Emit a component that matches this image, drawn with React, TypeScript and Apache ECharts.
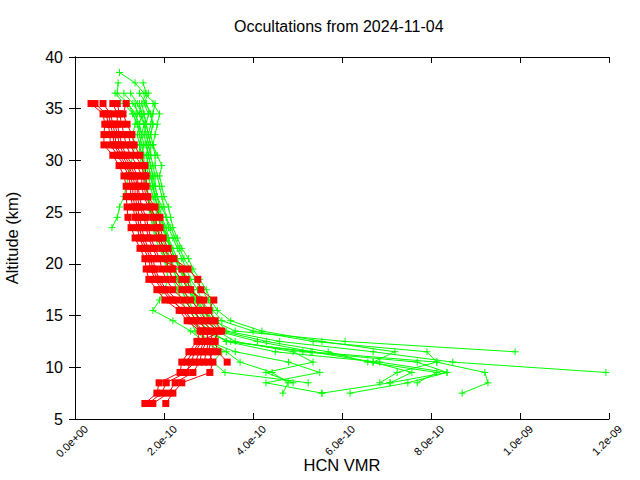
import React, { useEffect, useRef } from "react";
import * as echarts from "echarts";

// Red profiles: values in units of 1e-10, altitudes start at redTops[i] and step down 1 km
const redTops = [35.5, 35.5, 35.5, 35.5, 35.5, 35.5, 34.5, 33.5, 32.5];
const r1 = [0.36,0.63,0.67,0.65,0.65,0.85,0.99,1.10,1.15,1.15,1.17,1.19,1.26,1.35,1.46,1.57,1.60,1.66,1.84,2.02,2.34,2.52,2.81,2.74,2.56,2.40,2.36,1.89,1.84,1.57];
const r2 = [0.45,0.70,0.75,0.78,0.80,0.95,1.10,1.20,1.25,1.25,1.30,1.35,1.40,1.45,1.55,1.65,1.70,1.80,1.95,2.15,2.45,2.65,2.90,2.85,2.70,2.60,2.50,2.05,1.95,1.65];
const r3 = [0.63,0.80,0.85,0.90,0.92,1.05,1.20,1.30,1.35,1.35,1.40,1.45,1.50,1.55,1.65,1.75,1.80,1.90,2.05,2.30,2.55,2.75,3.00,2.95,2.85,2.80,2.65,2.25,2.10,1.75];
const r4 = [0.85,0.95,0.95,1.00,1.05,1.15,1.30,1.40,1.42,1.45,1.50,1.60,1.65,1.70,1.80,1.90,1.95,2.05,2.20,2.45,2.65,2.85,3.10,3.05,3.00,3.10,3.03,2.40,2.20,2.04];
const r5 = [0.95,1.00,1.05,1.10,1.15,1.25,1.40,1.50,1.50,1.55,1.65,1.75,1.80,1.85,1.95,2.05,2.10,2.20,2.40,2.60,2.80,2.95,3.20,3.15,3.21,3.42];
const r6 = [1.15,1.08,1.17,1.28,1.33,1.46,1.57,1.60,1.60,1.64,1.80,1.91,1.91,1.98,2.09,2.22,2.54,2.76,2.83,3.12,3.01,3.15,3.30,2.80,2.65,2.50];
const r7 = [0.75,0.80,0.85,0.88,1.00,1.15,1.25,1.30,1.30,1.35,1.40,1.45,1.50,1.60,1.70,1.75,1.85,2.00,2.20,2.40,2.60,2.85,2.90,2.80,2.70,2.45];
const r8 = [0.90,0.95,1.00,1.10,1.25,1.35,1.40,1.40,1.45,1.55,1.60,1.65,1.75,1.85,2.40,2.50,2.60,2.80,2.70,2.80,2.95,3.00,2.95,2.90];
const r9 = [1.20,1.25,1.35,1.50,1.55,1.55,1.60,1.70,1.80,1.85,1.90,2.00,2.15,2.20,2.40,2.55,2.90,2.90,3.05,3.25,3.10,3.10,3.00];
const redProfiles = [r1, r2, r3, r4, r5, r6, r7, r8, r9];

// Green profiles
const greenTops = [38.5, 37.5, 37.5, 36.5, 36.5, 36.5, 36.5, 36.5, 35.5, 35.5, 35.5, 34.5, 35.5, 35.5];
const g1 = [1.00,1.35,1.55,1.80,1.75,1.70,1.65,1.60,1.65,1.70,1.75,1.80,1.85,1.95,2.05,2.10,2.20,2.30,2.40,2.50,2.60,2.75,2.85,3.00,3.20,3.40,4.60,6.70,8.49,11.93];
const g2 = [0.97,0.95,1.20,1.35,1.45,1.50,1.45,1.50,1.55,1.55,1.60,1.65,1.70,1.80,1.85,1.95,2.05,2.15,2.25,2.35,2.45,2.55,2.65,2.80,3.00,3.40,5.30,8.13,9.21,9.28,8.70];
const g3 = [1.53,1.60,1.50,1.55,1.60,1.55,1.60,1.65,1.60,1.65,1.70,1.75,1.80,1.85,1.95,2.05,2.15,2.25,2.40,2.50,2.60,2.70,2.90,3.10,3.60,6.07,9.89];
const g4 = [0.90,1.10,1.30,1.40,1.50,1.55,1.50,1.55,1.60,1.62,1.65,1.70,1.75,1.85,1.90,2.00,2.10,2.20,2.30,2.40,2.50,2.60,2.70,2.80,3.50,5.12,7.69,8.36,7.48,6.18];
const g5 = [1.10,1.30,1.45,1.55,1.60,1.65,1.70,1.75,1.80,1.80,1.85,1.90,1.95,2.00,2.05,2.15,2.25,2.35,2.45,2.55,2.70,2.85,2.95,3.20,4.10,5.33,6.70,7.57,7.08,5.55];
const g6 = [1.25,1.40,1.50,1.45,1.40,1.45,1.45,1.50,1.55,1.60,1.65,1.65,1.70,1.75,1.85,1.95,2.00,2.10,2.20,2.30,2.40,2.50,2.60,2.70,3.00,3.40,3.71,4.43,4.79,4.67];
const g7 = [1.45,1.60,1.70,1.75,1.70,1.75,1.80,1.80,1.85,1.90,1.95,2.00,2.05,2.15,2.25,2.35,2.45,2.60,2.70,2.85,3.00,3.10,3.30,4.00,5.35,7.91,8.13,7.24,6.85];
const g8 = [1.65,1.55,1.65,1.60,1.65,1.70,1.70,1.65,1.70,1.75,1.80,1.85,1.90,2.00,2.10,2.20,2.30,2.40,2.55,2.65,2.80,2.95,3.10,3.30,4.30,5.69,6.58,8.13,7.69];
const g9 = [1.35,1.40,1.35,1.30,1.35,1.30,1.25,1.20,1.15,1.10,1.00,0.95,0.83];
const g10 = [1.75,1.90,1.85,1.80,1.75,1.85,1.95,1.90,1.95,2.00,2.10,2.15,2.20,2.30,2.40,2.55,2.65,2.80,2.95,3.05,3.20,3.50,4.20,5.55,7.19,6.70];
const g11 = [1.45,1.50,1.55,1.50,1.45,1.50,1.55,1.60,1.60,1.65,1.70,1.75,1.75,1.80,1.90,2.00,2.05,2.10,2.00,1.90,1.75,2.20,2.60,2.90,3.30,3.10,3.37,5.24];
const g12 = [1.55,1.60,1.65,1.70,1.65,1.70,1.75,1.75,1.80,1.85,1.95,2.05,2.10,2.15,2.25,2.35,2.50,2.60,2.75,2.90,3.00,3.20,3.60,4.90,5.35,4.29,4.90];
const g13 = [1.60,1.70,1.75,1.70,1.65,1.60,1.65,1.70,1.75,1.80,1.85,1.90,2.00,2.05,2.15,2.25,2.35,2.45,2.55,2.65,2.75,2.90,3.05,3.40,4.50,6.85,8.36,7.08];
const g14 = [1.20,1.30,1.40,1.45,1.50,1.55,1.55,1.60,1.60,1.65,1.70,1.80,1.85,1.90,2.00,2.10,2.20,2.30,2.40,2.50,2.60,2.70,2.80,3.00,3.60,4.80,5.50,4.29,5.55];
const greenProfiles = [g1, g2, g3, g4, g5, g6, g7, g8, g9, g10, g11, g12, g13, g14];

const UNIT = 1e-10;
const xTicks = { min: 0, max: 1.2e-9, interval: 2e-10 };
const yTicks = { min: 5, max: 40, interval: 5 };

const CROSS = "path://M0,4L8,4M4,0L4,8";
const FONT = "'Liberation Sans', Arial, sans-serif";

function toPoints(vals: number[], top: number) {
  return vals.map((v, i) => [v * UNIT, top - i]);
}

function fmtExp(v: number) {
  if (v === 0) return "0.0e+00";
  const s = v.toExponential(1);
  const [m, e] = s.split("e");
  const sign = e[0];
  const d = e.slice(1).padStart(2, "0");
  return m + "e" + sign + d;
}

export default function App() {
  const ref = useRef<HTMLDivElement>(null);
  useEffect(() => {
    if (!ref.current) return;
    const chart = echarts.init(ref.current, null, { renderer: "svg" });
    const series: any[] = [];
    greenProfiles.forEach((p, i) => {
      series.push({
        type: "line",
        xAxisIndex: 0,
        yAxisIndex: 0,
        data: toPoints(p, greenTops[i]),
        symbol: CROSS,
        symbolSize: 7,
        showAllSymbol: true,
        lineStyle: { color: "#00ff00", width: 1 },
        itemStyle: { color: "#00ff00", borderColor: "#00ff00", borderWidth: 1 },
        z: 2,
        silent: true,
      });
    });
    redProfiles.forEach((p, i) => {
      series.push({
        type: "line",
        xAxisIndex: 0,
        yAxisIndex: 0,
        data: toPoints(p, redTops[i]),
        symbol: "rect",
        symbolSize: 7,
        showAllSymbol: true,
        lineStyle: { color: "#ff0000", width: 1 },
        itemStyle: { color: "#ff0000" },
        z: 3,
        silent: true,
      });
    });
    const tickStyle = { inside: true, length: 6, lineStyle: { color: "#000" } };
    chart.setOption({
      animation: false,
      title: {
        text: "Occultations from 2024-11-04",
        left: 229,
        top: 13,
        textStyle: { fontFamily: FONT, fontSize: 16, fontWeight: "normal", color: "#000" },
      },
      grid: [
        { left: 75, right: 31, top: 57, bottom: 61, show: false, containLabel: false, outerBoundsMode: "none" },
        { left: 86, right: 20, top: 57, bottom: 61, show: false, containLabel: false, outerBoundsMode: "none" },
      ],
      xAxis: [
        {
          type: "value",
          gridIndex: 0,
          position: "bottom",
          ...xTicks,
          name: "HCN VMR",
          nameLocation: "middle",
          nameGap: 37,
          nameTextStyle: { fontFamily: FONT, fontSize: 16.5, color: "#000" },
          axisLine: { show: true, lineStyle: { color: "#000", width: 1 } },
          axisTick: tickStyle,
          splitLine: { show: false },
          axisLabel: { show: false },
        },
        {
          type: "value",
          gridIndex: 0,
          position: "top",
          ...xTicks,
          axisLine: { show: true, lineStyle: { color: "#000", width: 1 } },
          axisTick: tickStyle,
          splitLine: { show: false },
          axisLabel: { show: false },
        },
        {
          type: "value",
          gridIndex: 1,
          position: "bottom",
          ...xTicks,
          axisLine: { show: false },
          axisTick: { show: false },
          splitLine: { show: false },
          axisLabel: {
            rotate: 45,
            fontSize: 11,
            fontFamily: FONT,
            color: "#000",
            margin: 8,
            formatter: fmtExp,
          },
        },
      ],
      yAxis: [
        {
          type: "value",
          gridIndex: 0,
          position: "left",
          ...yTicks,
          name: "Altitude (km)",
          nameLocation: "middle",
          nameRotate: 90,
          nameGap: 55,
          nameTextStyle: { fontFamily: FONT, fontSize: 16.5, color: "#000" },
          axisLine: { show: true, lineStyle: { color: "#000", width: 1 } },
          axisTick: tickStyle,
          splitLine: { show: false },
          axisLabel: { fontSize: 16, fontFamily: FONT, color: "#000", margin: 12 },
        },
        {
          type: "value",
          gridIndex: 0,
          position: "right",
          ...yTicks,
          axisLine: { show: true, lineStyle: { color: "#000", width: 1 } },
          axisTick: tickStyle,
          splitLine: { show: false },
          axisLabel: { show: false },
        },
        {
          type: "value",
          gridIndex: 1,
          ...yTicks,
          show: false,
        },
      ],
      series,
    });
    return () => chart.dispose();
  }, []);
  return (
    <div
      ref={ref}
      style={{ position: "fixed", left: 0, top: 0, width: 640, height: 480, background: "#fff" }}
    />
  );
}
